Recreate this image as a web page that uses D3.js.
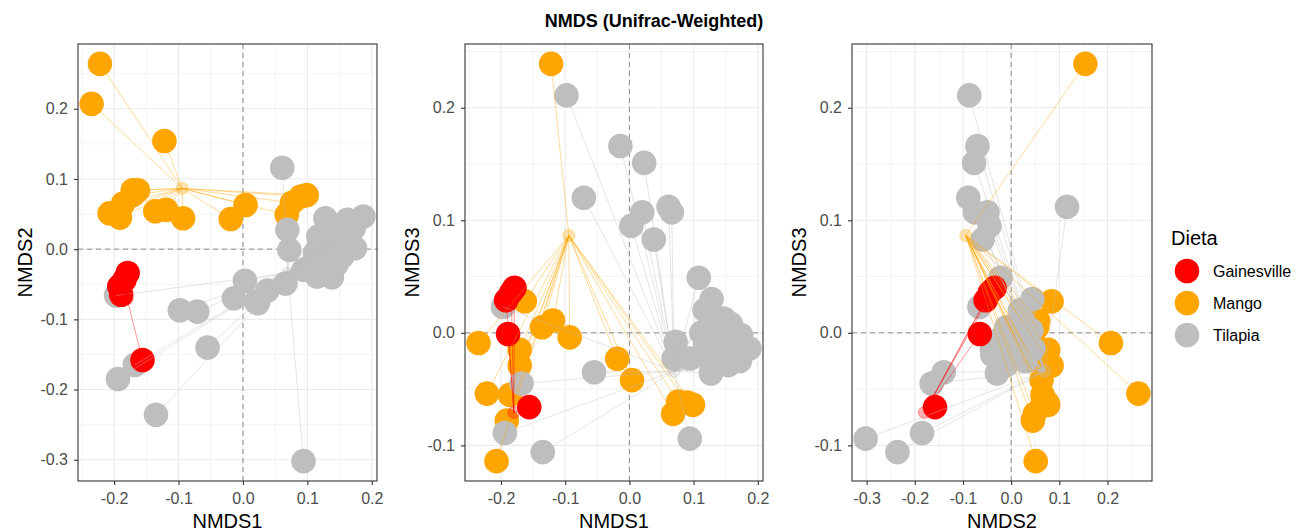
<!DOCTYPE html>
<html>
<head>
<meta charset="utf-8">
<script src="https://cdn.jsdelivr.net/npm/d3@7"></script>
<style>
  body { margin: 0; background: #ffffff; }
  svg { display: block; }
  text { font-family: "Liberation Sans", Arial, sans-serif; }
</style>
</head>
<body>
<svg id="chart" width="1313" height="531"></svg>
<script>
// ---- NMDS scores (3 axes) per diet ----
const dietas = ["Gainesville", "Mango", "Tilapia"];

const gainesvilleNMDS1 = [-0.179, -0.184, -0.192, -0.189, -0.156];
const gainesvilleNMDS2 = [-0.034, -0.044, -0.053, -0.065, -0.158];
const gainesvilleNMDS3 = [0.040, 0.036, 0.029, -0.001, -0.066];

const mangoNMDS1 = [-0.122, -0.235, -0.222, -0.163, -0.207, -0.191, -0.186, -0.171, -0.171,
                    -0.136, -0.119, -0.093, -0.019, 0.004, 0.068, 0.076, 0.090, 0.099];
const mangoNMDS2 = [0.154, 0.207, 0.264, 0.084, 0.051, 0.045, 0.065, 0.077, 0.084,
                    0.054, 0.056, 0.044, 0.043, 0.063, 0.049, 0.066, 0.075, 0.077];
const mangoNMDS3 = [0.239, -0.009, -0.054, 0.028, -0.114, -0.078, -0.055, -0.015, -0.029,
                    0.005, 0.011, -0.004, -0.023, -0.042, -0.072, -0.061, -0.062, -0.064];

const tilapiaNMDS1 = [-0.098, -0.014, 0.023, -0.071, 0.061, 0.066, 0.020, 0.003, 0.038, 0.108,
                      0.128, -0.197, -0.168, -0.055, -0.194, -0.135, 0.094,
                      0.069, 0.072, 0.094, 0.115, 0.117, 0.127, 0.139, 0.147, 0.154, 0.162, 0.174, 0.187,
                      0.118, 0.132, 0.140, 0.150, 0.158, 0.128, 0.145, 0.165, 0.112, 0.135, 0.172, 0.138];
const tilapiaNMDS2 = [-0.087, -0.070, -0.077, -0.089, 0.116, -0.049, -0.075, -0.045, -0.059, -0.022,
                      0.044, -0.066, -0.165, -0.140, -0.185, -0.236, -0.302,
                      0.0275, -0.001, -0.0295, -0.039, 0.018, -0.0295, 0.0133, 0.0228, -0.0105, 0.0418, 0.0014, 0.0465,
                      0.005, -0.010, 0.030, 0.005, 0.025, -0.018, -0.022, 0.015, -0.005, 0.035, 0.030, -0.040];
const tilapiaNMDS3 = [0.211, 0.166, 0.151, 0.120, 0.112, 0.107, 0.107, 0.095, 0.083, 0.049,
                      0.030, 0.023, -0.045, -0.035, -0.089, -0.106, -0.094,
                      -0.0228, -0.008, -0.0228, -0.0198, 0.0202, -0.0361, -0.0139, 0.0128, -0.0287, 0.0024, -0.002, -0.0139,
                      -0.010, 0.005, -0.022, -0.008, 0.008, -0.028, -0.005, -0.018, 0.000, 0.002, -0.025, -0.015];

// axis breaks
const ticksNMDS1 = [-0.2, -0.1, 0.0, 0.1, 0.2];
const ticksNMDS2 = [-0.3, -0.2, -0.1, 0.0, 0.1, 0.2];
const ticksNMDS3 = [-0.1, 0.0, 0.1, 0.2];

const chartTitle = "NMDS (Unifrac-Weighted)";
const legendTitle = "Dieta";

// ---- build sample table ----
const colores = { Gainesville: "#FF0000", Mango: "#FFA500", Tilapia: "#BEBEBE" };
const samples = [];
function addGroup(name, a, b, c) {
  a.forEach((v, i) => samples.push({ Dieta: name, NMDS1: v, NMDS2: b[i], NMDS3: c[i] }));
}
addGroup("Mango", mangoNMDS1, mangoNMDS2, mangoNMDS3);
addGroup("Tilapia", tilapiaNMDS1, tilapiaNMDS2, tilapiaNMDS3);
addGroup("Gainesville", gainesvilleNMDS1, gainesvilleNMDS2, gainesvilleNMDS3);

// group centroids, taken on NMDS1/NMDS2 and reused by every panel
const centroids = {};
dietas.forEach(d => {
  const s = samples.filter(p => p.Dieta === d);
  centroids[d] = { cx: d3.mean(s, p => p.NMDS1), cy: d3.mean(s, p => p.NMDS2) };
});

// ggplot-like 5% expansion of the data range
function expandedDomain(key) {
  const [lo, hi] = d3.extent(samples, p => p[key]);
  const pad = (hi - lo) * 0.05;
  return [lo - pad, hi + pad];
}
const breaks = { NMDS1: ticksNMDS1, NMDS2: ticksNMDS2, NMDS3: ticksNMDS3 };
function minorBreaks(major, dom) {
  const step = major[1] - major[0];
  const out = [];
  for (let v = major[0] - step / 2; v <= major[major.length - 1] + step / 2 + 1e-9; v += step) {
    if (v >= dom[0] && v <= dom[1]) out.push(v);
  }
  return out;
}
const fmt = v => (Math.abs(v) < 1e-9 ? 0 : v).toFixed(1);

// ---- layout ----
const svg = d3.select("#chart");
const panelTop = 44, panelBottom = 481;
const panels = [
  { x: "NMDS1", y: "NMDS2", left: 78, right: 377 },
  { x: "NMDS1", y: "NMDS3", left: 465, right: 763 },
  { x: "NMDS2", y: "NMDS3", left: 852, right: 1152 }
];

svg.append("text")
  .attr("x", 654).attr("y", 27)
  .attr("text-anchor", "middle")
  .attr("font-size", 18).attr("font-weight", "bold")
  .attr("fill", "#000")
  .text(chartTitle);

panels.forEach((pn, idx) => {
  const xDom = expandedDomain(pn.x), yDom = expandedDomain(pn.y);
  const x = d3.scaleLinear().domain(xDom).range([pn.left, pn.right]);
  const y = d3.scaleLinear().domain(yDom).range([panelBottom, panelTop]);
  const g = svg.append("g");
  const w = pn.right - pn.left, h = panelBottom - panelTop;

  const clipId = "clip" + idx;
  g.append("clipPath").attr("id", clipId).append("rect")
    .attr("x", pn.left).attr("y", panelTop).attr("width", w).attr("height", h);

  const body = g.append("g").attr("clip-path", `url(#${clipId})`);
  body.append("rect").attr("x", pn.left).attr("y", panelTop)
    .attr("width", w).attr("height", h).attr("fill", "#fff");

  // grid
  const grid = body.append("g").attr("stroke", "#EBEBEB").attr("fill", "none");
  minorBreaks(breaks[pn.x], xDom).forEach(v => grid.append("line")
    .attr("x1", x(v)).attr("x2", x(v)).attr("y1", panelTop).attr("y2", panelBottom).attr("stroke-width", 0.55));
  minorBreaks(breaks[pn.y], yDom).forEach(v => grid.append("line")
    .attr("y1", y(v)).attr("y2", y(v)).attr("x1", pn.left).attr("x2", pn.right).attr("stroke-width", 0.55));
  breaks[pn.x].forEach(v => grid.append("line")
    .attr("x1", x(v)).attr("x2", x(v)).attr("y1", panelTop).attr("y2", panelBottom).attr("stroke-width", 1.1));
  breaks[pn.y].forEach(v => grid.append("line")
    .attr("y1", y(v)).attr("y2", y(v)).attr("x1", pn.left).attr("x2", pn.right).attr("stroke-width", 1.1));

  // zero reference lines
  body.append("line").attr("x1", x(0)).attr("x2", x(0)).attr("y1", panelTop).attr("y2", panelBottom)
    .attr("stroke", "#8C8C8C").attr("stroke-width", 1).attr("stroke-dasharray", "5,4");
  body.append("line").attr("y1", y(0)).attr("y2", y(0)).attr("x1", pn.left).attr("x2", pn.right)
    .attr("stroke", "#8C8C8C").attr("stroke-width", 1).attr("stroke-dasharray", "5,4");

  // samples
  body.append("g").selectAll("circle").data(samples).join("circle")
    .attr("cx", d => x(d[pn.x])).attr("cy", d => y(d[pn.y]))
    .attr("r", 12.3).attr("fill", d => colores[d.Dieta]);

  // spider segments towards the group centroid
  body.append("g").selectAll("line").data(samples).join("line")
    .attr("x1", d => x(d[pn.x])).attr("y1", d => y(d[pn.y]))
    .attr("x2", d => x(centroids[d.Dieta].cx)).attr("y2", d => y(centroids[d.Dieta].cy))
    .attr("stroke", d => colores[d.Dieta]).attr("stroke-opacity", 0.4).attr("stroke-width", 1);

  body.append("g").selectAll("circle").data(dietas).join("circle")
    .attr("cx", d => x(centroids[d].cx)).attr("cy", d => y(centroids[d].cy))
    .attr("r", 6).attr("fill", d => colores[d]).attr("fill-opacity", 0.3)
    .attr("stroke", d => colores[d]).attr("stroke-opacity", 0.35).attr("stroke-width", 1);

  // border
  g.append("rect").attr("x", pn.left).attr("y", panelTop)
    .attr("width", w).attr("height", h)
    .attr("fill", "none").attr("stroke", "#333333").attr("stroke-width", 1.1);

  // axes
  const xAxis = g.append("g").attr("transform", `translate(0,${panelBottom})`)
    .call(d3.axisBottom(x).tickValues(breaks[pn.x]).tickFormat(fmt).tickSize(4).tickPadding(8));
  const yAxis = g.append("g").attr("transform", `translate(${pn.left},0)`)
    .call(d3.axisLeft(y).tickValues(breaks[pn.y]).tickFormat(fmt).tickSize(4).tickPadding(6));
  [xAxis, yAxis].forEach(a => {
    a.select(".domain").remove();
    a.selectAll(".tick line").attr("stroke", "#333333").attr("stroke-width", 1.1);
    a.selectAll(".tick text").attr("fill", "#4D4D4D").attr("font-size", 16)
      .attr("font-family", "'Liberation Sans', Arial, sans-serif");
  });

  g.append("text")
    .attr("x", (pn.left + pn.right) / 2).attr("y", 528)
    .attr("text-anchor", "middle").attr("font-size", 20).attr("fill", "#000")
    .text(pn.x);
  g.append("text")
    .attr("transform", `translate(${pn.left - 46},${(panelTop + panelBottom) / 2}) rotate(-90)`)
    .attr("text-anchor", "middle").attr("font-size", 20).attr("fill", "#000")
    .text(pn.y);
});

// legend
const legend = svg.append("g");
legend.append("text").attr("x", 1171).attr("y", 245)
  .attr("font-size", 20).attr("fill", "#000").text(legendTitle);
dietas.forEach((d, i) => {
  const cy = 271 + i * 32;
  legend.append("circle").attr("cx", 1187).attr("cy", cy).attr("r", 12.3).attr("fill", colores[d]);
  legend.append("text").attr("x", 1213).attr("y", cy).attr("dy", "0.35em")
    .attr("font-size", 16).attr("fill", "#000").text(d);
});
</script>
</body>
</html>
